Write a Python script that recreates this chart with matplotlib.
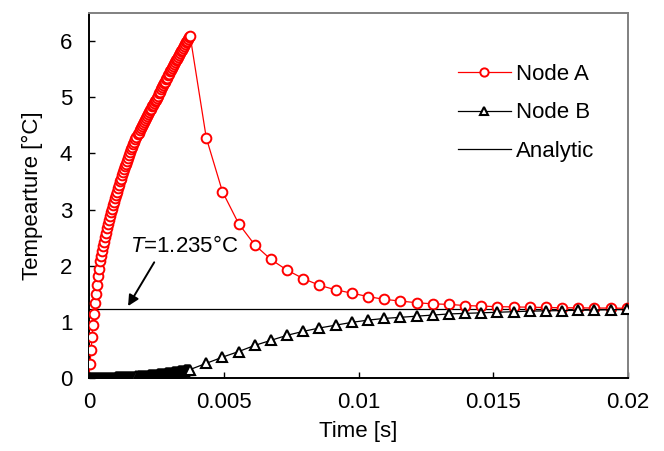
import numpy as np
import matplotlib
matplotlib.use("Agg")
import matplotlib.pyplot as plt

plt.rcParams['font.family'] = ['Liberation Sans', 'DejaVu Sans']
plt.rcParams['mathtext.fontset'] = 'custom'
plt.rcParams['mathtext.it'] = 'Liberation Sans:italic'
plt.rcParams['mathtext.rm'] = 'Liberation Sans'

# ---- data ----
heat_end = 0.00375          # end of heating phase [s]
n_dense = 101               # samples during heating
t_dense = np.linspace(0.0, heat_end, n_dense)
t_sparse = np.array([0.00435, 0.00495, 0.00555, 0.00615, 0.00675, 0.00735,
                     0.00795, 0.00855, 0.00915, 0.00975, 0.01035, 0.01095,
                     0.01155, 0.01215, 0.01275, 0.01335, 0.01395, 0.01455,
                     0.01515, 0.01575, 0.01635, 0.01695, 0.01755, 0.01815,
                     0.01875, 0.01935, 0.01995])

nodeA_dense = [0.00, 0.25, 0.50, 0.73, 0.94, 1.14, 1.33, 1.50, 1.66, 1.81,
               1.94, 2.08, 2.18, 2.27, 2.35, 2.43, 2.51, 2.59, 2.67, 2.74,
               2.81, 2.88, 2.95, 3.01, 3.08, 3.14, 3.20, 3.26, 3.32, 3.38,
               3.44, 3.50, 3.55, 3.61, 3.66, 3.72, 3.77, 3.82, 3.87, 3.92,
               3.97, 4.02, 4.07, 4.12, 4.17, 4.21, 4.26, 4.30, 4.34, 4.37,
               4.41, 4.45, 4.49, 4.53, 4.56, 4.60, 4.63, 4.67, 4.70, 4.74,
               4.77, 4.80, 4.84, 4.87, 4.90, 4.93, 4.96, 4.99, 5.03, 5.07,
               5.10, 5.14, 5.18, 5.21, 5.25, 5.28, 5.32, 5.35, 5.39, 5.42,
               5.46, 5.49, 5.52, 5.56, 5.59, 5.62, 5.66, 5.69, 5.72, 5.75,
               5.79, 5.82, 5.85, 5.88, 5.91, 5.95, 5.98, 6.01, 6.04, 6.07,
               6.10]
nodeA_sparse = [4.28, 3.32, 2.75, 2.37, 2.11, 1.92, 1.77, 1.65, 1.57, 1.51,
                1.45, 1.40, 1.37, 1.34, 1.32, 1.31, 1.29, 1.28, 1.27, 1.265,
                1.26, 1.255, 1.25, 1.25, 1.245, 1.245, 1.24]

nodeB_dense = [0.000, 0.000, 0.000, 0.000, 0.000, 0.000, 0.000, 0.000, 0.001, 0.001,
               0.001, 0.001, 0.001, 0.002, 0.002, 0.002, 0.002, 0.003, 0.003, 0.003,
               0.004, 0.004, 0.005, 0.005, 0.006, 0.006, 0.007, 0.008, 0.008, 0.009,
               0.009, 0.010, 0.011, 0.012, 0.013, 0.013, 0.014, 0.015, 0.016, 0.017,
               0.018, 0.019, 0.021, 0.022, 0.023, 0.024, 0.025, 0.027, 0.028, 0.029,
               0.031, 0.032, 0.034, 0.035, 0.036, 0.038, 0.040, 0.041, 0.043, 0.045,
               0.046, 0.048, 0.050, 0.052, 0.054, 0.056, 0.058, 0.060, 0.062, 0.064,
               0.066, 0.068, 0.071, 0.073, 0.075, 0.077, 0.080, 0.082, 0.085, 0.087,
               0.090, 0.093, 0.095, 0.098, 0.100, 0.103, 0.106, 0.109, 0.112, 0.115,
               0.118, 0.121, 0.124, 0.127, 0.130, 0.133, 0.137, 0.140, 0.143, 0.147,
               0.150]
nodeB_sparse = [0.26, 0.37, 0.47, 0.58, 0.67, 0.76, 0.83, 0.89, 0.94, 0.99,
                1.03, 1.06, 1.08, 1.10, 1.12, 1.14, 1.15, 1.16, 1.17, 1.18,
                1.19, 1.195, 1.20, 1.205, 1.21, 1.215, 1.22]

analytic_T = 1.235
x_ticks = [0, 0.005, 0.01, 0.015, 0.02]
x_ticklabels = ["0", "0.005", "0.01", "0.015", "0.02"]
y_ticks = [0, 1, 2, 3, 4, 5, 6]

tA = np.concatenate([t_dense, t_sparse])
yA = np.concatenate([nodeA_dense, nodeA_sparse])
yB = np.concatenate([nodeB_dense, nodeB_sparse])

# ---- figure ----
fig = plt.figure(figsize=(6.64, 4.51), dpi=100)
ax = fig.add_axes([0.134, 0.162, 0.812, 0.809])

ax.plot(tA, yA, color='red', lw=0.9, marker='o', ms=7, mfc='white',
        mec='red', mew=1.4, label='Node A', zorder=3)
ax.plot(tA, yB, color='black', lw=0.9, marker='^', ms=6.5, mfc='white',
        mec='black', mew=1.5, label='Node B', zorder=4)
ax.plot([0, 0.02], [analytic_T, analytic_T], color='black', lw=0.9,
        label='Analytic', zorder=2)

ax.set_xlim(0, 0.02)
ax.set_ylim(0, 6.5)
ax.set_xticks(x_ticks)
ax.set_xticklabels(x_ticklabels)
ax.set_yticks(y_ticks)
ax.tick_params(direction='in', length=4, width=1, labelsize=16, pad=10,
               top=False, right=False)
ax.tick_params(axis='y', pad=12)

for s in ['left', 'bottom']:
    ax.spines[s].set_color('black')
    ax.spines[s].set_linewidth(1.4)
for s in ['top', 'right']:
    ax.spines[s].set_color('#808080')
    ax.spines[s].set_linewidth(1.4)

ax.set_xlabel('Time [s]', fontsize=16, labelpad=6)
ax.set_ylabel('Tempearture [°C]', fontsize=16, labelpad=12)

ax.text(0.00352, 2.34, r'$T$=1.235°C', fontsize=16, ha='center', va='center')
ax.annotate('', xy=(0.00145, 1.28), xytext=(0.00242, 2.06),
            arrowprops=dict(arrowstyle='-|>', color='black', lw=1.4,
                            mutation_scale=16, shrinkA=0, shrinkB=0))

leg = ax.legend(loc='upper right', bbox_to_anchor=(0.974, 0.915), frameon=False,
                fontsize=16, handlelength=2.4, labelspacing=0.78,
                handletextpad=0.22, markerscale=0.85)

fig.savefig('out.png', dpi=100)
